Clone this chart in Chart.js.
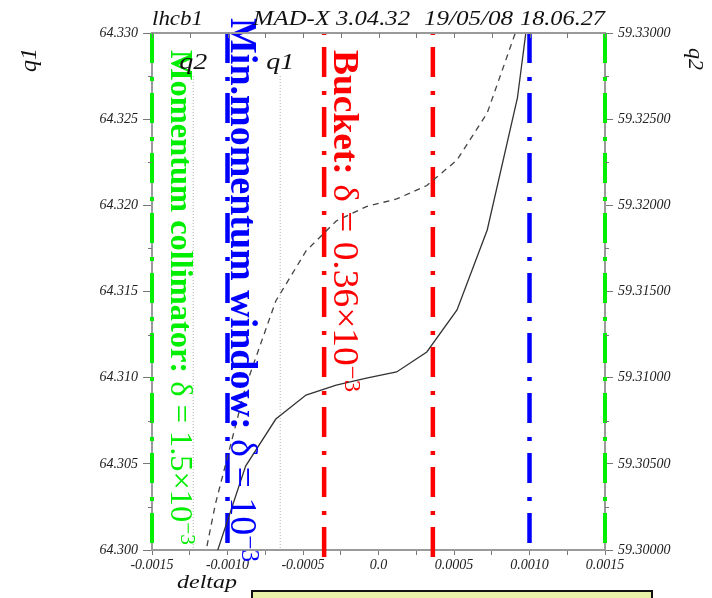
<!DOCTYPE html>
<html>
<head>
<meta charset="utf-8">
<script src="https://cdn.jsdelivr.net/npm/chart.js@4.4.0/dist/chart.umd.min.js"></script>
<style>
  html, body { margin: 0; padding: 0; background: #fff; }
  #wrap { width: 712px; height: 598px; }
</style>
</head>
<body>
<div id="wrap"><canvas id="chart" width="712" height="598"></canvas></div>
<script>
// tune scan: q1 / q2 versus deltap
const deltapQ1 = [-0.00128, -0.00108, -0.00088, -0.00068, -0.00048, -0.00028, -0.00008, 0.00012, 0.00032, 0.00052, 0.00072, 0.00092, 0.00112];
const q1 = [64.29443, 64.29959, 64.30487, 64.30760, 64.30899, 64.30957, 64.30998, 64.31033, 64.31149, 64.31393, 64.31857, 64.32623, 64.33980];
const deltapQ2 = [-0.00128, -0.00108, -0.00088, -0.00068, -0.00048, -0.00028, -0.00008, 0.00012, 0.00032, 0.00052, 0.00072, 0.00092, 0.00112];
const q2 = [59.29397, 59.30267, 59.30949, 59.31445, 59.31735, 59.31909, 59.31993, 59.32037, 59.32115, 59.32263, 59.32536, 59.33035, 59.34000];

// momentum acceptance limits (deltap)
const collimatorDelta = 1.5e-3;
const windowDelta = 1.0e-3;
const bucketDelta = 0.36e-3;

// curve label markers
const labelNames = ['q2', 'q1'];
const labelDeltap = [-0.001227, -0.000651];

const xTicks = [-0.0015, -0.00125, -0.001, -0.00075, -0.0005, -0.00025, 0, 0.00025, 0.0005, 0.00075, 0.001, 0.00125, 0.0015];
const xTickLabels = ['-0.0015', '', '-0.0010', '', '-0.0005', '', '0.0', '', '0.0005', '', '0.0010', '', '0.0015'];
const q1Ticks = [64.300, 64.305, 64.310, 64.315, 64.320, 64.325, 64.330];
const q1TickLabels = ['64.300', '64.305', '64.310', '64.315', '64.320', '64.325', '64.330'];
const q2Ticks = [59.300, 59.305, 59.310, 59.315, 59.320, 59.325, 59.330];
const q2TickLabels = ['59.30000', '59.30500', '59.31000', '59.31500', '59.32000', '59.32500', '59.33000'];

const SERIF = '"Liberation Serif", "Times New Roman", serif';
const AXIS_GREY = '#9a9a9a';
const DASHDOT = [30, 14, 4, 12];

Chart.defaults.font.family = SERIF;

function vline(x, yTop, yBottom, color, width, dash, offset) {
  return {
    data: [{ x: x, y: yTop }, { x: x, y: yBottom }],
    borderColor: color,
    borderWidth: width,
    borderDash: dash,
    borderDashOffset: offset || 0,
    borderCapStyle: 'butt',
    showLine: true,
    pointRadius: 0,
    clip: false,
    yAxisID: 'y'
  };
}

// stretch a string between two x positions
function fitText(ctx, text, x0, x1, baseline, font) {
  ctx.save();
  ctx.font = font;
  const w = ctx.measureText(text).width;
  ctx.translate(x0, baseline);
  ctx.scale((x1 - x0) / w, 1);
  ctx.textAlign = 'left';
  ctx.textBaseline = 'alphabetic';
  ctx.fillText(text, 0, 0);
  ctx.restore();
}

// rotated (top to bottom) mixed bold / regular / superscript text
function verticalLabel(ctx, parts, size, color, x, y0, y1) {
  ctx.save();
  ctx.fillStyle = color;
  ctx.textAlign = 'left';
  ctx.textBaseline = 'alphabetic';
  const fonts = parts.map(p => (p.bold ? 'bold ' : '') + (p.sup ? size * 0.66 : size) + 'px ' + SERIF);
  const widths = parts.map((p, i) => { ctx.font = fonts[i]; return ctx.measureText(p.t).width; });
  const total = widths.reduce((a, b) => a + b, 0);
  ctx.translate(x, y0);
  ctx.rotate(Math.PI / 2);
  ctx.scale((y1 - y0) / total, 1);
  let pos = 0;
  parts.forEach((p, i) => {
    ctx.font = fonts[i];
    ctx.fillText(p.t, pos, p.sup ? -size * 0.3 : 0);
    pos += widths[i];
  });
  ctx.restore();
}

const decor = {
  id: 'decor',
  afterDatasetsDraw(chart) {
    const ctx = chart.ctx;
    verticalLabel(ctx, [
      { t: 'Momentum collimator: ', bold: true },
      { t: 'δ = ' + (collimatorDelta * 1e3).toFixed(1) + '×10' },
      { t: '−3', sup: true }
    ], 32, '#00ee00', 171, 50, 545);
    verticalLabel(ctx, [
      { t: 'Min.momentum window: ', bold: true },
      { t: 'δ = 10' },
      { t: '−3', sup: true }
    ], 38, '#0000ff', 231, 18, 562);
    verticalLabel(ctx, [
      { t: 'Bucket: ', bold: true },
      { t: 'δ = ' + (bucketDelta * 1e3).toFixed(2) + '×10' },
      { t: '−3', sup: true }
    ], 36, '#ff0000', 334, 50, 392);
  },
  afterDraw(chart) {
    const ctx = chart.ctx;
    const area = chart.chartArea;
    const xs = chart.scales.x, y1s = chart.scales.y, y2s = chart.scales.y2;

    // top frame with inward ticks
    ctx.save();
    ctx.strokeStyle = AXIS_GREY;
    ctx.lineWidth = 2;
    ctx.beginPath();
    ctx.moveTo(area.left - 1, area.top);
    ctx.lineTo(area.right + 1, area.top);
    ctx.stroke();
    ctx.lineWidth = 1;
    ctx.strokeStyle = '#777';
    ctx.beginPath();
    xTicks.forEach(v => {
      const px = Math.round(xs.getPixelForValue(v)) + 0.5;
      ctx.moveTo(px, area.top);
      ctx.lineTo(px, area.top + 5);
    });
    // minor ticks on both q axes
    for (let i = 0; i < q1Ticks.length - 1; i++) {
      const py = Math.round(y1s.getPixelForValue((q1Ticks[i] + q1Ticks[i + 1]) / 2)) + 0.5;
      ctx.moveTo(area.left - 4, py);
      ctx.lineTo(area.left, py);
    }
    for (let i = 0; i < q2Ticks.length - 1; i++) {
      const py = Math.round(y2s.getPixelForValue((q2Ticks[i] + q2Ticks[i + 1]) / 2)) + 0.5;
      ctx.moveTo(area.right, py);
      ctx.lineTo(area.right + 4, py);
    }
    ctx.stroke();
    ctx.restore();

    ctx.save();
    ctx.fillStyle = '#111';
    // header
    fitText(ctx, 'lhcb1', 152, 203, 25, 'italic 20px ' + SERIF);
    fitText(ctx, 'MAD-X 3.04.32', 253, 410, 25, 'italic 20px ' + SERIF);
    fitText(ctx, '19/05/08', 424, 513, 25, 'italic 20px ' + SERIF);
    fitText(ctx, '18.06.27', 520, 605, 25, 'italic 20px ' + SERIF);
    // curve labels
    labelNames.forEach((name, i) => {
      const cx = xs.getPixelForValue(labelDeltap[i]);
      fitText(ctx, name, cx - 14, cx + 14, 69, 'italic 24px ' + SERIF);
    });
    // axis titles
    fitText(ctx, 'deltap', 177, 237, 588, 'italic 19px ' + SERIF);
    ctx.font = 'italic 24px ' + SERIF;
    ctx.save();
    ctx.translate(36, 72);
    ctx.rotate(-Math.PI / 2);
    ctx.fillText('q1', 0, 0);
    ctx.restore();
    ctx.font = 'italic 22px ' + SERIF;
    ctx.save();
    ctx.translate(689, 48);
    ctx.rotate(Math.PI / 2);
    ctx.fillText('q2', 0, 0);
    ctx.restore();
    ctx.restore();

    // legend box (cut at the bottom edge)
    ctx.save();
    ctx.fillStyle = '#e9f1a9';
    ctx.fillRect(252, 591, 400, 20);
    ctx.strokeStyle = '#111';
    ctx.lineWidth = 2;
    ctx.strokeRect(252, 591, 400, 20);
    ctx.restore();
  }
};

const tickFont = { family: SERIF, style: 'italic', size: 14 };

new Chart(document.getElementById('chart'), {
  type: 'scatter',
  data: {
    datasets: [
      {
        data: deltapQ1.map((d, i) => ({ x: d, y: q1[i] })),
        borderColor: '#333',
        borderWidth: 1.3,
        showLine: true,
        pointRadius: 0,
        yAxisID: 'y'
      },
      {
        data: deltapQ2.map((d, i) => ({ x: d, y: q2[i] })),
        borderColor: '#444',
        borderWidth: 1.3,
        borderDash: [6, 5],
        showLine: true,
        pointRadius: 0,
        yAxisID: 'y2'
      },
      vline(labelDeltap[0], 64.3275, 64.300, '#aaa', 1, [1, 2]),
      vline(labelDeltap[1], 64.3275, 64.300, '#aaa', 1, [1, 2]),
      vline(-collimatorDelta, 64.330, 64.300, '#00ee00', 4, DASHDOT),
      vline(collimatorDelta, 64.330, 64.300, '#00ee00', 4, DASHDOT),
      vline(-windowDelta, 64.330, 64.300, '#0000ff', 4.5, DASHDOT),
      vline(windowDelta, 64.330, 64.300, '#0000ff', 4.5, DASHDOT),
      vline(-bucketDelta, 64.330, 64.29948, '#ff0000', 4.5, DASHDOT, 46),
      vline(bucketDelta, 64.330, 64.29948, '#ff0000', 4.5, DASHDOT, 46)
    ]
  },
  options: {
    responsive: false,
    animation: false,
    devicePixelRatio: 1,
    layout: { padding: { top: 33, left: 0, right: 0, bottom: 0 } },
    plugins: { legend: { display: false }, tooltip: { enabled: false } },
    scales: {
      x: {
        type: 'linear',
        position: 'bottom',
        min: -0.0015,
        max: 0.0015,
        afterBuildTicks: s => { s.ticks = xTicks.map(v => ({ value: v })); },
        afterFit: s => { s.height = 48; },
        ticks: {
          autoSkip: false,
          maxRotation: 0,
          padding: 2,
          color: '#222',
          font: tickFont,
          callback: (v, i) => xTickLabels[i]
        },
        grid: { drawOnChartArea: false, tickLength: 5, tickColor: '#777' },
        border: { color: AXIS_GREY, width: 2 }
      },
      y: {
        type: 'linear',
        position: 'left',
        min: 64.300,
        max: 64.330,
        afterBuildTicks: s => { s.ticks = q1Ticks.map(v => ({ value: v })); },
        afterFit: s => { s.width = 152; },
        ticks: {
          padding: 5,
          color: '#222',
          font: tickFont,
          callback: (v, i) => q1TickLabels[i]
        },
        grid: { drawOnChartArea: false, tickLength: 9, tickColor: '#777' },
        border: { color: AXIS_GREY, width: 2 }
      },
      y2: {
        type: 'linear',
        position: 'right',
        min: 59.300,
        max: 59.330,
        afterBuildTicks: s => { s.ticks = q2Ticks.map(v => ({ value: v })); },
        afterFit: s => { s.width = 107; },
        ticks: {
          padding: 5,
          color: '#222',
          font: tickFont,
          callback: (v, i) => q2TickLabels[i]
        },
        grid: { drawOnChartArea: false, tickLength: 8, tickColor: '#777' },
        border: { color: AXIS_GREY, width: 2 }
      }
    }
  },
  plugins: [decor]
});
</script>
</body>
</html>
